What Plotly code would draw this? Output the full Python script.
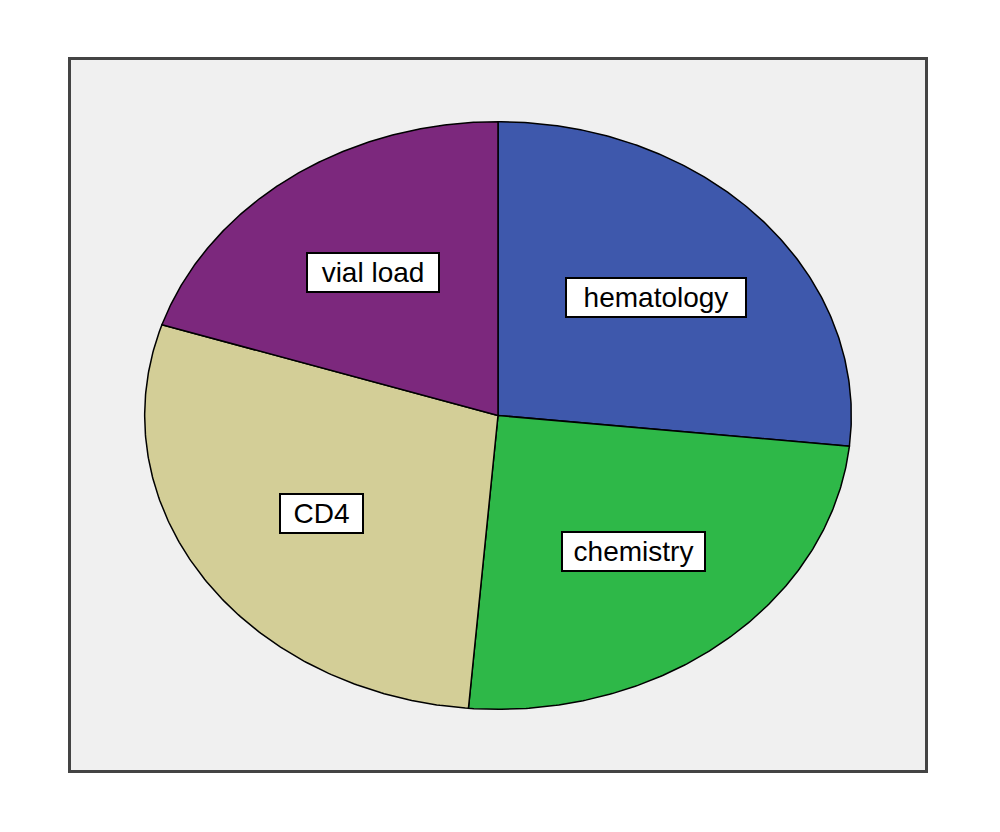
import numpy as np
import plotly.graph_objects as go

# slice data, clockwise from 12 o'clock
categories = ["hematology", "chemistry", "CD4", "vial load"]
counts = [40, 37, 43, 30]
colors = ["#3E58AC", "#2EB848", "#D3CE97", "#7C287D"]
label_widths = [172, 135, 75, 124]  # label box widths (px), style only

total = sum(counts)
fig = go.Figure()

# SPSS draws the pie stretched into an ellipse, so build the wedges as filled
# paths on axes whose ranges make a unit circle look like that ellipse
start = 0.0
for name, n, col, w in zip(categories, counts, colors, label_widths):
    sweep = 2 * np.pi * n / total
    theta = np.linspace(start, start + sweep, 200)
    xs = np.concatenate([[0], np.sin(theta), [0]])
    ys = np.concatenate([[0], np.cos(theta), [0]])
    fig.add_trace(go.Scatter(
        x=xs, y=ys,
        mode="lines",
        fill="toself",
        fillcolor=col,
        line=dict(color="black", width=1.5),
        name=name,
        hoveron="fills",
        text=f"{name}: {n}",
        hoverinfo="text",
        showlegend=False,
    ))
    mid = start + sweep / 2
    fig.add_annotation(
        x=0.6 * np.sin(mid), y=0.6 * np.cos(mid),
        text=name,
        showarrow=False,
        font=dict(family="Liberation Sans, Arial, sans-serif", size=28, color="black"),
        bgcolor="white",
        bordercolor="black",
        borderwidth=2,
        borderpad=3,
        width=w,
        height=31,
    )
    start += sweep

fig.update_xaxes(range=[-1.2085, 1.2085], visible=True, showgrid=False,
                 zeroline=False, showticklabels=False, ticks="",
                 showline=True, mirror=True, linecolor="#444444", linewidth=2.5)
fig.update_yaxes(range=[-1.2064, 1.2098], showgrid=False,
                 zeroline=False, showticklabels=False, ticks="",
                 showline=True, mirror=True, linecolor="#444444", linewidth=2.5)

fig.update_layout(
    width=1000,
    height=832,
    margin=dict(l=63, r=83, t=52, b=70),
    paper_bgcolor="white",
    plot_bgcolor="#F0F0F0",
)

fig.write_html("out.html")
